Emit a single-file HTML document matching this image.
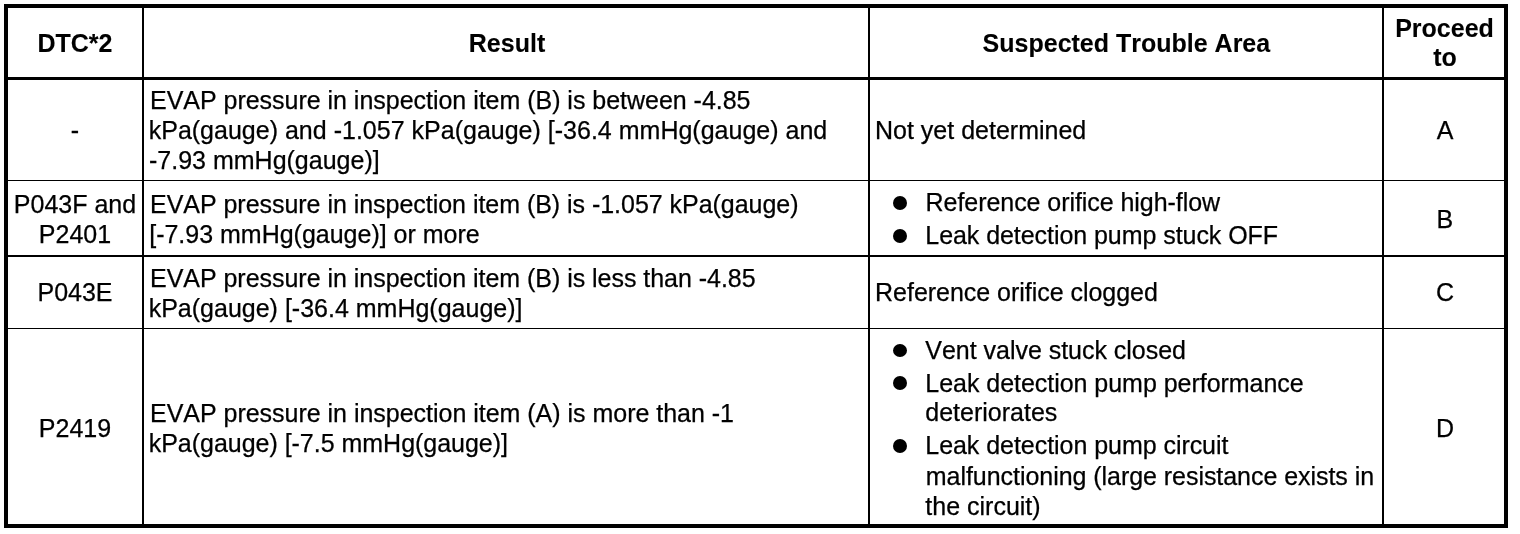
<!DOCTYPE html>
<html lang="en">
<head>
<meta charset="utf-8">
<title>DTC table</title>
<style>
html,body{margin:0;padding:0;background:#fff;}
body{width:1520px;height:534px;position:relative;overflow:hidden;font-family:"Liberation Sans",Arial,Helvetica,sans-serif;font-size:25px;line-height:30px;color:#000;font-kerning:none;-webkit-text-stroke:0.25px #000;}
.b{position:absolute;background:#000;}
.t{position:absolute;white-space:nowrap;height:30px;}
.c{transform:translateX(-50%);}
.h{font-weight:bold;-webkit-text-stroke:0.1px #000;}
.d{position:absolute;width:14px;height:14px;border-radius:50%;background:#000;}
</style>
</head>
<body>
<div class="b" style="left:4px;top:4px;width:1504px;height:4px"></div>
<div class="b" style="left:4px;top:524px;width:1504px;height:4px"></div>
<div class="b" style="left:4px;top:4px;width:4px;height:524px"></div>
<div class="b" style="left:1504px;top:4px;width:4px;height:524px"></div>
<div class="b" style="left:142px;top:8px;width:2px;height:516px"></div>
<div class="b" style="left:868px;top:8px;width:2px;height:516px"></div>
<div class="b" style="left:1382px;top:8px;width:2px;height:516px"></div>
<div class="b" style="left:8px;top:77px;width:1496px;height:3px"></div>
<div class="b" style="left:8px;top:180px;width:1496px;height:1px"></div>
<div class="b" style="left:8px;top:255px;width:1496px;height:2px"></div>
<div class="b" style="left:8px;top:328px;width:1496px;height:1px"></div>
<div class="t c h" style="left:75px;top:27.80px">DTC*2</div>
<div class="t c h" style="left:507px;top:27.80px">Result</div>
<div class="t c h" style="left:1126.4px;top:27.80px">Suspected Trouble Area</div>
<div class="t c h" style="left:1444.5px;top:12.50px">Proceed</div>
<div class="t c h" style="left:1445px;top:42.30px">to</div>
<div class="t c" style="left:75px;top:115.00px">-</div>
<div class="t" style="left:150px;top:85.00px;letter-spacing:-0.0231px">EVAP pressure in inspection item (B) is between -4.85</div>
<div class="t" style="left:148.7px;top:115.00px;letter-spacing:0.0074px">kPa(gauge) and -1.057 kPa(gauge) [-36.4 mmHg(gauge) and</div>
<div class="t" style="left:149px;top:145.00px">-7.93 mmHg(gauge)]</div>
<div class="t" style="left:875px;top:115.00px">Not yet determined</div>
<div class="t c" style="left:1445px;top:115.00px">A</div>
<div class="t c" style="left:75px;top:188.60px">P043F and</div>
<div class="t c" style="left:75px;top:218.80px">P2401</div>
<div class="t" style="left:150px;top:188.60px;letter-spacing:-0.0321px">EVAP pressure in inspection item (B) is -1.057 kPa(gauge)</div>
<div class="t" style="left:149.2px;top:218.80px;letter-spacing:-0.0077px">[-7.93 mmHg(gauge)] or more</div>
<div class="t" style="left:925.6px;top:186.90px;letter-spacing:-0.0577px">Reference orifice high-flow</div>
<div class="t" style="left:925.3px;top:219.50px;letter-spacing:-0.0571px">Leak detection pump stuck OFF</div>
<div class="t c" style="left:1444.8px;top:203.50px">B</div>
<div class="t c" style="left:75px;top:277.00px">P043E</div>
<div class="t" style="left:150px;top:263.00px;letter-spacing:-0.0296px">EVAP pressure in inspection item (B) is less than -4.85</div>
<div class="t" style="left:148.7px;top:293.00px">kPa(gauge) [-36.4 mmHg(gauge)]</div>
<div class="t" style="left:875.1px;top:277.40px;letter-spacing:-0.0333px">Reference orifice clogged</div>
<div class="t c" style="left:1445px;top:277.00px">C</div>
<div class="t c" style="left:75px;top:413.00px">P2419</div>
<div class="t" style="left:150px;top:398.00px;letter-spacing:-0.0196px">EVAP pressure in inspection item (A) is more than -1</div>
<div class="t" style="left:148.7px;top:428.00px;letter-spacing:-0.0214px">kPa(gauge) [-7.5 mmHg(gauge)]</div>
<div class="t" style="left:925.3px;top:334.80px;letter-spacing:-0.0273px">Vent valve stuck closed</div>
<div class="t" style="left:925.3px;top:367.50px;letter-spacing:-0.0333px">Leak detection pump performance</div>
<div class="t" style="left:925.3px;top:397.40px">deteriorates</div>
<div class="t" style="left:925.3px;top:430.00px;letter-spacing:-0.0462px">Leak detection pump circuit</div>
<div class="t" style="left:925.8px;top:460.80px;letter-spacing:-0.0463px">malfunctioning (large resistance exists in</div>
<div class="t" style="left:925.3px;top:490.70px">the circuit)</div>
<div class="t c" style="left:1445px;top:413.00px">D</div>
<div class="d" style="left:893px;top:195.80px;height:14px"></div>
<div class="d" style="left:893px;top:228.80px;height:14px"></div>
<div class="d" style="left:893px;top:343.80px;height:13.2px"></div>
<div class="d" style="left:893px;top:376.00px;height:14px"></div>
<div class="d" style="left:893px;top:439.00px;height:14px"></div>
</body>
</html>
